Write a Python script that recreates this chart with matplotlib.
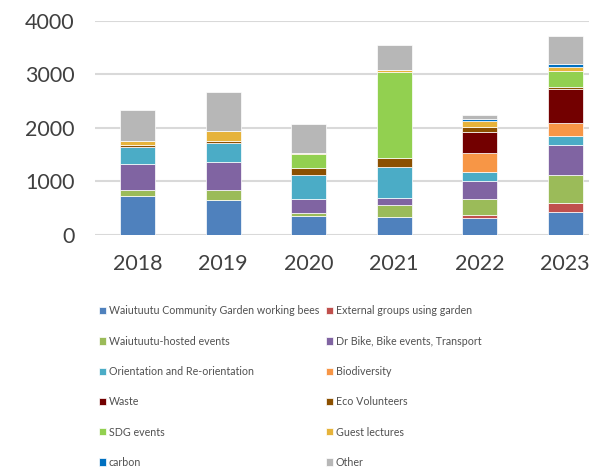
import matplotlib
matplotlib.use("Agg")
import matplotlib.pyplot as plt
import numpy as np

years = ["2018", "2019", "2020", "2021", "2022", "2023"]

series_names = [
    "Waiutuutu Community Garden working bees",
    "External groups using garden",
    "Waiutuutu-hosted events",
    "Dr Bike, Bike events, Transport",
    "Orientation and Re-orientation",
    "Biodiversity",
    "Waste",
    "Eco Volunteers",
    "SDG events",
    "Guest lectures",
    "carbon",
    "Other",
]

working_bees   = [733, 652, 355, 330, 318, 424]
external       = [0, 0, 0, 0, 50, 168]
hosted_events  = [106, 193, 62, 224, 311, 536]
dr_bike        = [478, 509, 250, 138, 330, 548]
orientation    = [317, 354, 454, 585, 169, 168]
biodiversity   = [0, 0, 0, 0, 355, 243]
waste          = [0, 0, 0, 0, 392, 636]
eco_volunteers = [49, 50, 125, 156, 87, 37]
sdg_events     = [0, 0, 268, 1607, 0, 299]
guest_lectures = [75, 180, 12, 38, 106, 75]
carbon         = [0, 0, 0, 0, 44, 62]
other          = [577, 720, 536, 461, 69, 511]

series_values = [working_bees, external, hosted_events, dr_bike, orientation,
                 biodiversity, waste, eco_volunteers, sdg_events,
                 guest_lectures, carbon, other]

colors = ["#4F81BD", "#C0504D", "#9BBB59", "#8064A2", "#4BACC6", "#F79646",
          "#730000", "#8C5000", "#92D050", "#E6B33B", "#0070C0", "#B7B7B7"]

plt.rcParams["font.family"] = ["Lato", "DejaVu Sans"]
text_color = "#404040"

fig = plt.figure(figsize=(5.89, 4.68), dpi=100)
ax = fig.add_axes([95 / 589, 1 - 235 / 468, (608 - 95) / 589, (235 - 20.5) / 468])

x = np.arange(len(years))
bottom = np.zeros(len(years))
handles = []
for name, vals, c in zip(series_names, series_values, colors):
    vals = np.array(vals, dtype=float)
    b = ax.bar(x, vals, width=0.41, bottom=bottom, color=c, label=name,
               edgecolor="white", linewidth=0.5, zorder=3)
    handles.append(b)
    bottom += vals

ax.set_xlim(-0.5, len(years) - 0.5)
ax.set_ylim(0, 4000)
ax.set_yticks([0, 1000, 2000, 3000, 4000])
ax.set_xticks(x)
ax.set_xticklabels(years)
ax.yaxis.grid(True, color="#D9D9D9", linewidth=1.5, zorder=0)
ax.set_axisbelow(True)
for s in ax.spines.values():
    s.set_visible(False)
ax.tick_params(axis="both", length=0, labelsize=15.5, colors=text_color)
ax.tick_params(axis="y", pad=14.5)
ax.tick_params(axis="x", pad=14)

# Two single-column legends laid side by side
left_idx = [0, 2, 4, 6, 8, 10]
right_idx = [1, 3, 5, 7, 9, 11]
common = dict(loc="upper left", frameon=False, fontsize=7.7, handlelength=0.68,
              handleheight=0.68, handletextpad=0.25, labelspacing=1.8,
              borderaxespad=0, borderpad=0, labelcolor="#505050")
leg1 = fig.legend([handles[i] for i in left_idx],
                  [series_names[i] for i in left_idx],
                  bbox_to_anchor=(99 / 589, 1 - 305.5 / 468), **common)
leg2 = fig.legend([handles[i] for i in right_idx],
                  [series_names[i] for i in right_idx],
                  bbox_to_anchor=(326 / 589, 1 - 305.5 / 468), **common)

fig.savefig("out.png", dpi=100)
